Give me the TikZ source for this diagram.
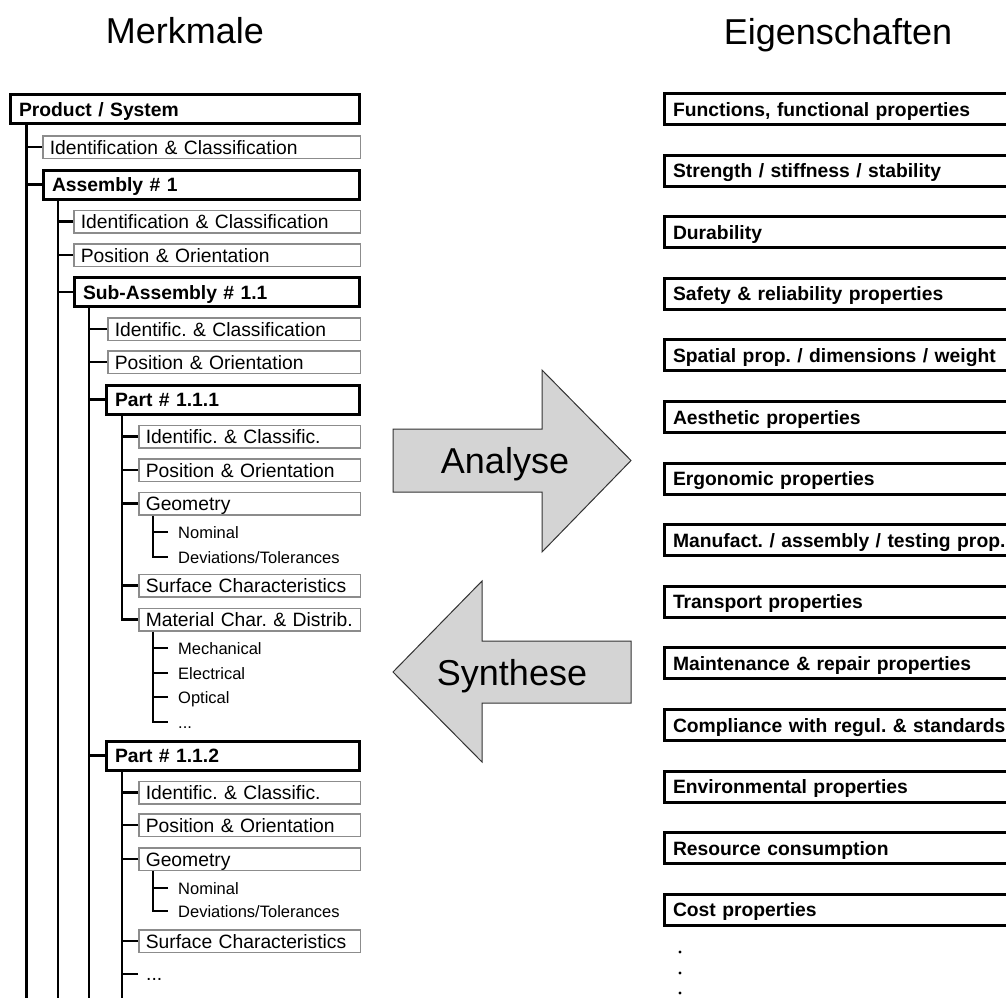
\documentclass[tikz,border=0pt]{standalone}
\usepackage{fontspec}
\setmainfont{Liberation Sans}
\usetikzlibrary{calc}
\frenchspacing

\tikzset{
  grp/.style={draw=black, line width=3pt, anchor=west, minimum height=29pt,
    inner xsep=8.5pt, inner ysep=0pt, text width=#1, align=left,
    text height=14pt, text depth=0pt, font=\bfseries\fontsize{19.3}{21}\selectfont},
  itm/.style={draw=black!45, line width=1.5pt, anchor=west, minimum height=22.5pt,
    inner xsep=7pt, inner ysep=0pt, text width=#1, align=left,
    text height=14pt, text depth=0pt, font=\fontsize{19.3}{21}\selectfont},
  leaf/.style={anchor=west, inner xsep=10pt, inner ysep=0pt,
    text height=12pt, text depth=0pt, font=\fontsize{16.5}{18}\selectfont},
  prop/.style={draw=black, line width=3pt, anchor=west, minimum height=31pt,
    inner xsep=8.5pt, inner ysep=0pt, text width=400pt, align=left,
    text height=14pt, text depth=0pt, font=\bfseries\fontsize{19.3}{21}\selectfont},
  tige/.style={line width=2.5pt},
  fleche/.style={draw=black!80, fill=black!17, line width=1pt},
  grand/.style={font=\fontsize{36}{40}\selectfont, text height=26pt, text depth=0pt}
}

\begin{document}
\begin{tikzpicture}[x=1pt, y=-1pt]
  \useasboundingbox (0,0) rectangle (1006,997);
  \coordinate (bas) at (0,1000);

  % Titres
  \node[anchor=base, font=\fontsize{36}{40}\selectfont] (merk) at (185,43) {Merkmale};
  \node[anchor=base, font=\fontsize{36}{40}\selectfont] (eig) at (838,44) {Eigenschaften};

  % Arbre des Merkmale
  \node[grp=332pt] (prod) at (9,109) {Product / System};
  \node[itm=303.5pt] (idc1) at (42,147) {Identification \& Classification};
  \node[grp=299pt] (asm) at (42,184.5) {Assembly \# 1};
  \node[itm=272.5pt] (idc2) at (73,221.5) {Identification \& Classification};
  \node[itm=272.5pt] (pos2) at (73,255) {Position \& Orientation};
  \node[grp=268pt] (sub) at (73,292) {Sub-Assembly \# 1.1};
  \node[itm=238.5pt] (idc3) at (107,329) {Identific. \& Classification};
  \node[itm=238.5pt] (pos3) at (107,362) {Position \& Orientation};

  % Part 1.1.1
  \node[grp=236pt] (part1) at (105,399.5) {Part \# 1.1.1};
  \node[itm=207.5pt] (idc4) at (138,436.5) {Identific. \& Classific.};
  \node[itm=207.5pt] (pos4) at (138,470) {Position \& Orientation};
  \node[itm=207.5pt] (geo1) at (138,503.5) {Geometry};
  \node[leaf] (nom1) at (168,532) {Nominal};
  \node[leaf] (dev1) at (168,557) {Deviations/Tolerances};
  \node[itm=207.5pt] (surf1) at (138,585.5) {Surface Characteristics};
  \node[itm=207.5pt] (mat) at (138,619.5) {\mbox{Material Char. \& Distrib.}};
  \node[leaf] (mech) at (168,648) {Mechanical};
  \node[leaf] (elec) at (168,673) {Electrical};
  \node[leaf] (opt) at (168,697) {Optical};
  \node[leaf] (etc) at (168,722) {...};

  % Part 1.1.2
  \node[grp=236pt] (part2) at (105,755.5) {Part \# 1.1.2};
  \node[itm=207.5pt] (idc5) at (138,792.5) {Identific. \& Classific.};
  \node[itm=207.5pt] (pos5) at (138,825) {Position \& Orientation};
  \node[itm=207.5pt] (geo2) at (138,859) {Geometry};
  \node[leaf] (nom2) at (168,888) {Nominal};
  \node[leaf] (dev2) at (168,911) {Deviations/Tolerances};
  \node[itm=207.5pt] (surf2) at (138,941) {Surface Characteristics};
  \node[leaf, inner xsep=8pt, font=\fontsize{19.3}{21}\selectfont] (more) at (138,974) {...};

  % Tiges verticales
  \coordinate (v0) at ($(prod.south west)+(17,0)$);
  \coordinate (v1) at ($(asm.south west)+(16,0)$);
  \coordinate (v2) at ($(sub.south west)+(16,0)$);
  \coordinate (v3) at ($(part1.south west)+(17,0)$);
  \coordinate (v4) at ($(part2.south west)+(17,0)$);
  \coordinate (g1) at ($(geo1.south west)+(15,0)$);
  \coordinate (m1) at ($(mat.south west)+(15,0)$);
  \coordinate (g2) at ($(geo2.south west)+(15,0)$);

  \draw[tige, line width=3pt] (v0) -- (v0 |- bas);
  \draw[tige] (v1) -- (v1 |- bas);
  \draw[tige] (v2) -- (v2 |- bas);
  \draw[tige] (v4) -- (v4 |- bas);
  \draw[tige] (v3) |- (mat.west);
  \draw[tige] (g1) |- (dev1.west);
  \draw[tige] (m1) |- (etc.west);
  \draw[tige] (g2) |- (dev2.west);

  % Branches
  \foreach \n in {idc1,asm} \draw[tige] (\n.west) -- (\n.west -| v0);
  \foreach \n in {idc2,pos2,sub} \draw[tige] (\n.west) -- (\n.west -| v1);
  \foreach \n in {idc3,pos3,part1,part2} \draw[tige] (\n.west) -- (\n.west -| v2);
  \foreach \n in {idc4,pos4,geo1,surf1} \draw[tige] (\n.west) -- (\n.west -| v3);
  \foreach \n in {idc5,pos5,geo2,surf2,more} \draw[tige] (\n.west) -- (\n.west -| v4);
  \draw[tige] (nom1.west) -- (nom1.west -| g1);
  \foreach \n in {mech,elec,opt} \draw[tige] (\n.west) -- (\n.west -| m1);
  \draw[tige] (nom2.west) -- (nom2.west -| g2);

  % Eigenschaften
  \foreach \t [count=\i] in {{Functions, functional properties},
      Strength / stiffness / stability, Durability,
      Safety \& reliability properties, Spatial prop. / dimensions / weight,
      Aesthetic properties, Ergonomic properties,
      Manufact. / assembly / testing prop., Transport properties,
      Maintenance \& repair properties, Compliance with regul. \& standards,
      Environmental properties, Resource consumption, Cost properties}
    \node[prop] (p\i) at (663,{109+61.6*(\i-1)}) {\t};
  \foreach \y in {952,973,993}
    \fill (680,\y) circle (1.7pt);

  % Fleches
  \draw[fleche] (393,429) -- (542,429) -- (542,370) -- (631,460.5)
    -- (542,552) -- (542,492) -- (393,492) -- cycle;
  \node[grand] (ana) at (505,460.5) {Analyse};
  \draw[fleche] (631,641) -- (482,641) -- (482,581) -- (393,672)
    -- (482,762) -- (482,703) -- (631,703) -- cycle;
  \node[grand] (syn) at (512,672) {Synthese};
\end{tikzpicture}
\end{document}
